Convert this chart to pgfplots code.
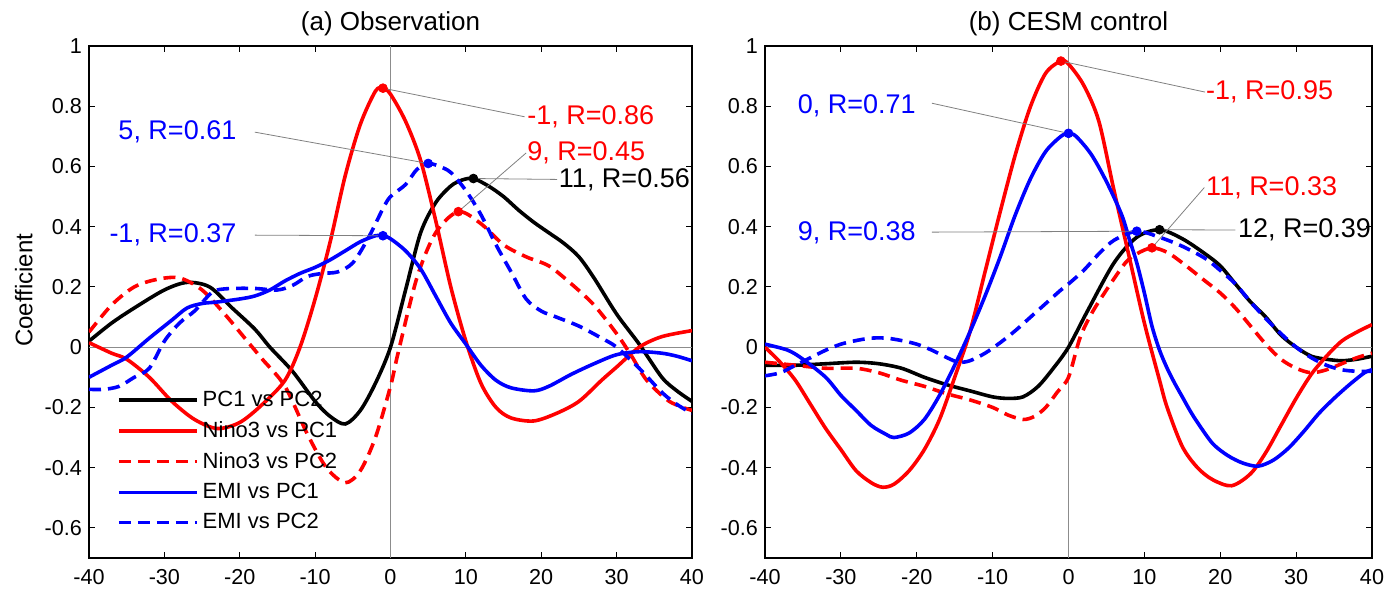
\documentclass[border=0pt]{standalone}
\usepackage{fontspec}
\setmainfont{Liberation Sans}
\usepackage{pgfplots}
\pgfplotsset{compat=1.18}

\definecolor{mred}{RGB}{255,0,0}
\definecolor{mblue}{RGB}{0,0,255}

\pgfplotsset{
  panel/.style={
    scale only axis, height=256pt,
    xmin=-40, xmax=40, ymin=-0.7, ymax=1,
    xtick={-40,-30,...,40},
    ytick={-0.6,-0.4,-0.2,0,0.2,0.4,0.6,0.8,1},
    tick align=inside, major tick length=3pt,
    tick label style={font=\fontsize{10.8}{12}\selectfont},
    /pgf/number format/assume math mode=true,
    axis line style={line width=0.6pt},
    every tick/.style={black, line width=0.5pt},
    xticklabel style={yshift=-2pt},
    title style={font=\fontsize{13}{15}\selectfont, at={(0.5,1)}, anchor=south, yshift=-4.5pt},
  },
  zl/.style={black!45, line width=0.5pt, forget plot},
  ld/.style={black!50, line width=0.4pt, forget plot},
  cv/.style={line width=1.8pt, smooth},
  dsh/.style={dash pattern=on 6pt off 3.5pt},
  pk/.style={only marks, mark=*, mark size=2.2pt, forget plot},
}
\tikzset{lbl/.style={inner sep=0pt, font=\fontsize{13.5}{15}\selectfont}}

\begin{document}
\begin{tikzpicture}
\useasboundingbox (-44.5pt,-16pt) rectangle (648pt,279pt);

% (a) Observation
\begin{axis}[panel, width=301.5pt, title={(a) Observation},
  every axis y label/.style={at={(axis description cs:-0.108,0.523)}, rotate=90, anchor=center,
    font=\fontsize{12}{14}\selectfont},
  ylabel={Coefficient},
  legend style={at={(rel axis cs:0.046,0.335)}, anchor=north west, draw=none, fill=none,
    inner sep=0pt, font=\fontsize{11}{13}\selectfont, row sep=2pt,
    /tikz/every even column/.append style={column sep=4.5pt}},
  legend cell align=left,
  legend image code/.code={\draw[#1] (0pt,0pt) -- (39pt,0pt);},
]
\addplot[zl] coordinates {(-40,0) (40,0)};
\addplot[zl] coordinates {(0,-0.7) (0,1)};

\addplot[cv, black] coordinates {
(-40,0.02) (-37,0.08) (-34,0.13) (-30,0.19) (-27,0.215) (-24,0.20) (-21,0.13)
(-18,0.06) (-16,0.0) (-13,-0.08) (-10,-0.18) (-8,-0.23) (-6,-0.255) (-4,-0.21)
(-2,-0.12) (0,0.0) (2,0.19) (4,0.38) (6,0.48) (8,0.535) (9.5,0.555) (11,0.56)
(13,0.535) (15,0.50) (17,0.455) (19,0.415) (21,0.38) (23,0.345) (25,0.30)
(27,0.23) (30,0.11) (33,0.01) (36,-0.10) (38,-0.145) (40,-0.18)};
\addlegendentry{PC1 vs PC2}

\addplot[cv, mred] coordinates {
(-40,0.015) (-37,-0.02) (-35,-0.04) (-32,-0.10) (-29,-0.18) (-26,-0.24) (-23,-0.27)
(-20,-0.25) (-17,-0.19) (-14,-0.11) (-12,0.0) (-10,0.16) (-8,0.35) (-6,0.57)
(-4,0.74) (-2,0.85) (-1,0.86) (0,0.84) (2,0.75) (4,0.62) (6,0.42) (8,0.20)
(10,0.02) (12,-0.12) (14,-0.20) (16,-0.235) (19,-0.245) (22,-0.22) (25,-0.18)
(28,-0.11) (30,-0.066) (33,0.0) (36,0.035) (40,0.055)};
\addlegendentry{Nino3 vs PC1}

\addplot[cv, dsh, mred] coordinates {
(-40,0.05) (-37,0.14) (-34,0.20) (-31,0.225) (-28,0.23) (-25,0.19) (-22,0.11)
(-19,0.02) (-17,-0.04) (-14,-0.13) (-11,-0.29) (-8.5,-0.40) (-6,-0.45) (-4,-0.41)
(-2,-0.30) (0,-0.13) (1,-0.02) (3.5,0.23) (6,0.38) (9,0.45) (12,0.41) (15,0.34)
(18,0.30) (21,0.27) (24,0.21) (27,0.14) (30,0.045) (32,-0.03) (34,-0.11)
(37,-0.18) (40,-0.21)};
\addlegendentry{Nino3 vs PC2}

\addplot[cv, mblue] coordinates {
(-40,-0.10) (-37,-0.06) (-35,-0.033) (-32,0.03) (-29,0.09) (-27,0.13) (-25,0.145)
(-23,0.15) (-20,0.16) (-18,0.17) (-16,0.19) (-14,0.22) (-12,0.245) (-10,0.265)
(-8,0.29) (-6,0.32) (-4,0.35) (-2,0.37) (-1,0.37) (0,0.36) (2,0.32) (4,0.26)
(6,0.17) (8,0.08) (10,0.01) (12,-0.06) (14,-0.11) (16,-0.135) (19,-0.145)
(21,-0.13) (24,-0.09) (27,-0.055) (30,-0.025) (33,-0.015) (36,-0.02) (38,-0.03)
(40,-0.045)};
\addlegendentry{EMI vs PC1}

\addplot[cv, dsh, mblue] coordinates {
(-40,-0.14) (-38,-0.14) (-36,-0.13) (-34,-0.10) (-32,-0.07) (-30,0.02) (-28,0.08)
(-26,0.12) (-24,0.175) (-23,0.19) (-21,0.195) (-18,0.195) (-15,0.19) (-13,0.205)
(-11,0.235) (-9,0.245) (-7,0.25) (-5,0.28) (-3,0.36) (-1,0.46) (0,0.50) (2,0.54)
(3.5,0.59) (5,0.61) (6.5,0.60) (8,0.58) (10,0.52) (12,0.44) (14,0.34) (16,0.25)
(18,0.16) (20,0.12) (22,0.10) (25,0.07) (28,0.03) (30,0.0) (33,-0.07) (36,-0.15)
(38,-0.19) (40,-0.22)};
\addlegendentry{EMI vs PC2}

% leader lines and peaks
\addplot[ld] coordinates {(-1,0.86) (17.8,0.765)};
\addplot[ld] coordinates {(-18,0.714) (5,0.61)};
\addplot[ld] coordinates {(9,0.45) (18,0.645)};
\addplot[ld] coordinates {(11,0.56) (22.1,0.557)};
\addplot[ld] coordinates {(-18,0.372) (-1,0.37)};
\addplot[pk, mred] coordinates {(-1,0.86) (9,0.45)};
\addplot[pk, mblue] coordinates {(5,0.61) (-1,0.37)};
\addplot[pk, black] coordinates {(11,0.56)};

\node[lbl, mred, anchor=west] at (axis cs:18.1,0.765) {-1, R=0.86};
\node[lbl, mblue, anchor=east] at (axis cs:-20.4,0.714) {5, R=0.61};
\node[lbl, mred, anchor=west] at (axis cs:18.1,0.645) {9, R=0.45};
\node[lbl, black, anchor=west] at (axis cs:22.3,0.557) {11, R=0.56};
\node[lbl, mblue, anchor=east] at (axis cs:-20.4,0.372) {-1, R=0.37};
\end{axis}

% (b) CESM control
\begin{axis}[panel, width=303.5pt, at={(338pt,0pt)}, title={(b) CESM control}]
\addplot[zl] coordinates {(-40,0) (40,0)};
\addplot[zl] coordinates {(0,-0.7) (0,1)};

\addplot[cv, black] coordinates {
(-40,-0.06) (-36,-0.06) (-32,-0.055) (-28,-0.05) (-25,-0.055) (-22,-0.07)
(-19,-0.10) (-16,-0.125) (-13,-0.145) (-10,-0.165) (-8,-0.17) (-6,-0.165)
(-4,-0.13) (-2,-0.07) (0,0.0) (2.5,0.12) (6,0.28) (9,0.365) (12,0.39) (15,0.36)
(18,0.31) (20,0.27) (22,0.21) (24,0.15) (26,0.10) (28,0.04) (30,0.0) (32,-0.03)
(34,-0.04) (36,-0.045) (38,-0.04) (40,-0.03)};

\addplot[cv, mred] coordinates {
(-40,0.0) (-38,-0.05) (-36,-0.11) (-34,-0.19) (-32,-0.27) (-30,-0.34) (-28,-0.41)
(-26,-0.45) (-24.5,-0.465) (-23,-0.455) (-21,-0.41) (-19,-0.34) (-17,-0.24)
(-15,-0.10) (-13,0.05) (-11,0.25) (-9,0.45) (-7,0.64) (-5,0.80) (-3,0.91)
(-1,0.95) (0,0.94) (2,0.87) (4,0.75) (6,0.52) (8,0.30) (10,0.08) (12,-0.11)
(13,-0.20) (15,-0.33) (17,-0.40) (19,-0.44) (21.5,-0.46)
(24,-0.42) (26,-0.35) (28,-0.26) (30,-0.17) (32,-0.09) (34,-0.03) (36,0.02)
(38,0.05) (40,0.075)};

\addplot[cv, dsh, mred] coordinates {
(-40,-0.05) (-36,-0.06) (-32,-0.07) (-28,-0.07) (-25,-0.085) (-22,-0.11)
(-19,-0.13) (-16,-0.155) (-13,-0.175) (-10,-0.20) (-8,-0.225) (-6,-0.24)
(-4.5,-0.23) (-3,-0.20) (-1.5,-0.15) (0,-0.10) (1.5,0.03) (3,0.11) (5,0.19)
(7.5,0.28) (9,0.31) (11,0.33) (13,0.315) (15,0.28) (18,0.22) (20,0.18) (22,0.13)
(24,0.07) (26,0.01) (28,-0.04) (30,-0.07) (32,-0.085) (34,-0.075) (36,-0.055)
(38,-0.035) (40,-0.02)};

\addplot[cv, mblue] coordinates {
(-40,0.01) (-37,-0.01) (-35,-0.04) (-32,-0.10) (-30,-0.16) (-28,-0.21) (-26,-0.26)
(-24,-0.29) (-23,-0.30) (-21,-0.285) (-19,-0.24) (-17,-0.16) (-15,-0.06)
(-13,0.05) (-11,0.17) (-9,0.30) (-7,0.44) (-5,0.56) (-3,0.65) (-1,0.70) (0,0.71)
(1,0.70) (3,0.64) (5,0.55) (7,0.44) (8,0.36) (9,0.28) (10,0.18) (11,0.07)
(12,-0.01) (13,-0.07) (14,-0.12) (15,-0.165) (16,-0.21) (17,-0.25)
(19,-0.32) (21,-0.36) (23,-0.385) (25,-0.395) (27,-0.375) (29,-0.335)
(31,-0.28) (33,-0.22) (35,-0.17) (37,-0.125) (39,-0.085) (40,-0.075)};

\addplot[cv, dsh, mblue] coordinates {
(-40,-0.095) (-38,-0.085) (-36,-0.06) (-34,-0.035) (-32,-0.01) (-30,0.01)
(-28,0.022) (-26,0.03) (-24,0.03) (-22,0.022) (-20,0.01) (-18,-0.01) (-16,-0.035)
(-14.5,-0.05) (-13,-0.045) (-11,-0.02) (-9,0.015) (-7,0.055) (-5,0.10) (-3,0.145)
(-1,0.19) (0,0.21) (2,0.255) (4,0.31) (6,0.355) (9,0.385) (12,0.365) (15,0.335)
(18,0.295) (20,0.255) (22,0.21) (24,0.15) (26,0.095) (28,0.045) (30,0.0)
(32,-0.035) (34,-0.06) (36,-0.075) (38,-0.08) (40,-0.08)};

\addplot[ld] coordinates {(-1,0.95) (18,0.847)};
\addplot[ld] coordinates {(-18,0.81) (0,0.71)};
\addplot[ld] coordinates {(11,0.33) (17.9,0.53)};
\addplot[ld] coordinates {(12,0.39) (22,0.389)};
\addplot[ld] coordinates {(-18,0.382) (9,0.385)};
\addplot[pk, mred] coordinates {(-1,0.95) (11,0.33)};
\addplot[pk, mblue] coordinates {(0,0.71) (9,0.385)};
\addplot[pk, black] coordinates {(12,0.39)};

\node[lbl, mred, anchor=west] at (axis cs:18.1,0.847) {-1, R=0.95};
\node[lbl, mblue, anchor=east] at (axis cs:-20.1,0.80) {0, R=0.71};
\node[lbl, mred, anchor=west] at (axis cs:18.1,0.528) {11, R=0.33};
\node[lbl, black, anchor=west] at (axis cs:22.3,0.389) {12, R=0.39};
\node[lbl, mblue, anchor=east] at (axis cs:-20.1,0.38) {9, R=0.38};
\end{axis}
\end{tikzpicture}
\end{document}
